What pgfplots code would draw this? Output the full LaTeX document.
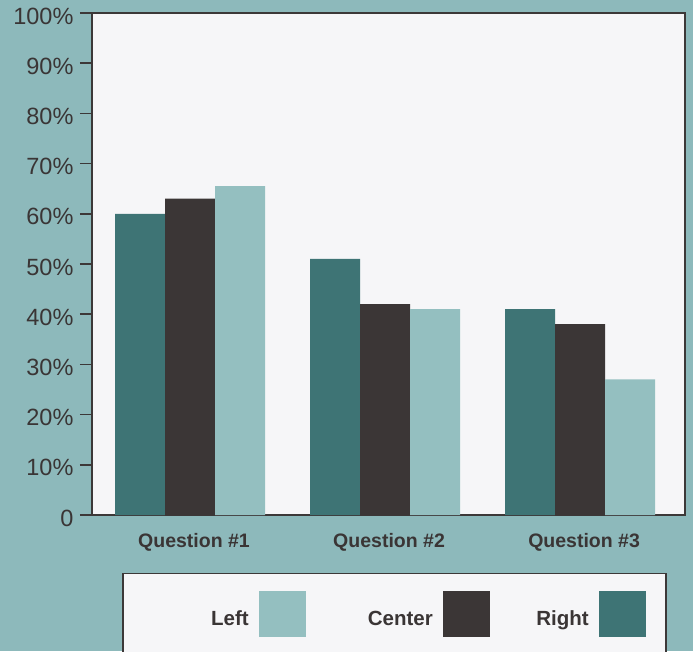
\documentclass[border=0pt]{standalone}
\usepackage{fontspec}
\setmainfont{Liberation Sans}
\usepackage{pgfplots}
\pgfplotsset{compat=1.18}
\definecolor{bgteal}{HTML}{8DB9BB}
\definecolor{plotbg}{HTML}{F6F6F8}
\definecolor{rightc}{HTML}{3E7475}
\definecolor{centerc}{HTML}{3B3636}
\definecolor{leftc}{HTML}{94BFC0}
\definecolor{axisc}{HTML}{3C3838}
\definecolor{txt}{HTML}{3A3535}
\begin{document}
\begin{tikzpicture}
\useasboundingbox (0,0) rectangle (693pt,651pt);
\clip (0,0) rectangle (693pt,651pt);
\fill[bgteal] (0,0) rectangle (693pt,651pt);
\begin{axis}[
  at={(92pt,136pt)}, anchor=south west,
  scale only axis, width=593pt, height=502pt,
  ymin=0, ymax=100, xmin=-0.5026, xmax=2.538,
  axis background/.style={fill=plotbg},
  axis line style={draw=axisc, line width=1.5pt},
  ybar=0pt, bar width=50pt,
  ytick={0,10,20,30,40,50,60,70,80,90,100},
  yticklabels={0,10\%,20\%,30\%,40\%,50\%,60\%,70\%,80\%,90\%,100\%},
  ytick pos=left, tick align=outside, major tick length=12pt,
  y tick style={draw=axisc, line width=1.5pt},
  yticklabel style={font=\fontsize{23.5}{27}\selectfont, text=txt, xshift=-3pt, yshift=-3pt},
  xtick={0,1,2},
  xticklabels={Question \#1,Question \#2,Question \#3},
  x tick style={draw=none},
  xticklabel style={font=\bfseries\fontsize{19.5}{23}\selectfont, text=txt, yshift=-3pt, xshift=4pt},
  legend style={at={(axis description cs:0.0506,-0.1155)}, anchor=north west,
    draw=axisc, line width=1.5pt, fill=plotbg, legend columns=3,
    inner xsep=20pt, inner ysep=17pt, /tikz/column sep=0pt,
    nodes={inner sep=0pt, font=\bfseries\fontsize{20.5}{24}\selectfont, text=txt}},
  legend plot pos=right, reverse legend,
  legend image code/.code={\fill[#1] (10pt,-18pt) rectangle (57pt,28pt); \path (0pt,0pt);},
]
\addplot[fill=rightc, draw=none] coordinates {(0,60) (1,51) (2,41)};
\addplot[fill=centerc, draw=none] coordinates {(0,63) (1,42) (2,38)};
\addplot[fill=leftc, draw=none] coordinates {(0,65.5) (1,41) (2,27)};
\legend{\makebox[99pt][r]{Right},\makebox[127pt][r]{Center},\makebox[106pt][r]{Left}}
\end{axis}
\end{tikzpicture}
\end{document}
